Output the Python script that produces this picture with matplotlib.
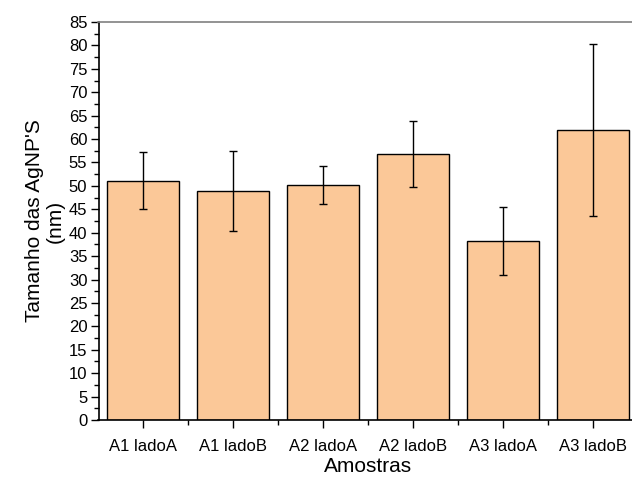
import matplotlib
matplotlib.use("Agg")
import matplotlib.pyplot as plt
from matplotlib.ticker import MultipleLocator, FixedLocator

plt.rcParams['font.family'] = ['Liberation Sans', 'DejaVu Sans']

categories = ["A1 ladoA", "A1 ladoB", "A2 ladoA", "A2 ladoB", "A3 ladoA", "A3 ladoB"]
means = [51.1, 48.9, 50.2, 56.8, 38.2, 61.9]
errors = [6.05, 8.45, 4.05, 7.1, 7.2, 18.3]

W, H = 632, 479
fig = plt.figure(figsize=(W / 100, H / 100), dpi=100)
left, right, top, bottom = 98.5, 638, 22, 420
ax = fig.add_axes([left / W, (H - bottom) / H, (right - left) / W, (bottom - top) / H])

x = list(range(len(categories)))
ax.bar(x, means, width=0.8, color="#FBC898", edgecolor="black", linewidth=1.0, zorder=2)
ax.errorbar(x, means, yerr=errors, fmt="none", ecolor="black", elinewidth=1.0,
            capsize=3, capthick=1.0, zorder=3)

ax.set_xlim(-0.5, len(categories) - 0.5)
ax.set_ylim(0, 85)
ax.set_xticks(x)
ax.set_xticklabels(categories)
ax.xaxis.set_minor_locator(FixedLocator([i + 0.5 for i in x[:-1]]))
ax.yaxis.set_major_locator(MultipleLocator(5))
ax.yaxis.set_minor_locator(MultipleLocator(2.5))
ax.tick_params(axis="y", which="major", labelsize=12, length=6, width=1, direction="out", pad=2)
ax.tick_params(axis="y", which="minor", length=3.5, width=1, direction="out")
ax.tick_params(axis="x", which="major", labelsize=12, length=6, width=1, direction="out", pad=8)
ax.tick_params(axis="x", which="minor", length=3.5, width=1, direction="out")

for s in ["left", "bottom"]:
    ax.spines[s].set_color("black")
    ax.spines[s].set_linewidth(1.2)
ax.spines["top"].set_color("#808080")
ax.spines["top"].set_linewidth(1.2)
ax.spines["right"].set_visible(False)

ax.set_xlabel("Amostras", fontsize=15, labelpad=2)
ax.set_ylabel("Tamanho das AgNP'S\n(nm)", fontsize=15, labelpad=3, linespacing=1.1)

fig.savefig("out.png", dpi=100)
